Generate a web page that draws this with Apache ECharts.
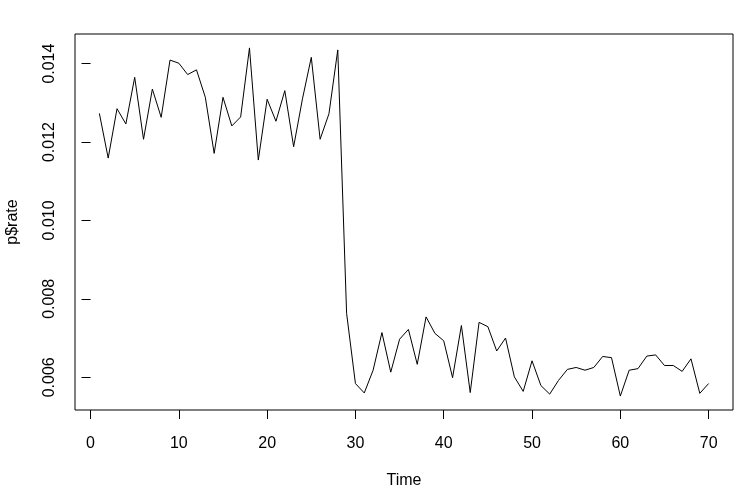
<!DOCTYPE html>
<html>
<head>
<meta charset="utf-8">
<script src="https://cdn.jsdelivr.net/npm/echarts@6/dist/echarts.min.js"></script>
<style>
html,body{margin:0;padding:0;background:#fff;}
#chart{width:744px;height:496px;}
</style>
</head>
<body>
<div id="chart"></div>
<script>
const time = [1,2,3,4,5,6,7,8,9,10,11,12,13,14,15,16,17,18,19,20,21,22,23,24,25,26,27,28,29,30,31,32,33,34,35,36,37,38,39,40,41,42,43,44,45,46,47,48,49,50,51,52,53,54,55,56,57,58,59,60,61,62,63,64,65,66,67,68,69,70];
const rate = [0.01273,0.01159,0.01285,0.01246,0.01365,0.01207,0.01335,0.01263,0.01409,0.01401,
              0.01372,0.01384,0.01314,0.01171,0.01314,0.01241,0.01264,0.01440,0.01154,0.01309,
              0.01253,0.01331,0.01188,0.01310,0.01416,0.01207,0.01272,0.01435,0.00763,0.00584,
              0.00560,0.00618,0.00714,0.00613,0.00697,0.00722,0.00633,0.00754,0.00712,0.00693,
              0.00599,0.00732,0.00561,0.00740,0.00729,0.00667,0.00700,0.00601,0.00564,0.00642,
              0.00579,0.00557,0.00592,0.00620,0.00625,0.00618,0.00625,0.00653,0.00650,0.00552,
              0.00618,0.00622,0.00654,0.00657,0.00630,0.00630,0.00615,0.00647,0.00559,0.00584];
const xTicks = [0,10,20,30,40,50,60,70];
const yTicks = [0.006,0.008,0.010,0.012,0.014];
const xName = 'Time';
const yName = 'p$rate';

const font = 'Liberation Sans, Arial, sans-serif';
const chart = echarts.init(document.getElementById('chart'), null, {renderer:'canvas'});
const pts = time.map((t,i)=>[t, rate[i]]);
chart.setOption({
  animation:false,
  backgroundColor:'#fff',
  grid:{left:75,right:11,top:34,bottom:86,show:true,borderColor:'#000',borderWidth:1,backgroundColor:'transparent',
        outerBoundsMode:'none',containLabel:false},
  xAxis:{
    type:'value', min:-1.76, max:72.76,
    name:xName, nameLocation:'middle', nameGap:63,
    nameTextStyle:{color:'#000',fontSize:16,fontFamily:font},
    axisLine:{show:false},
    splitLine:{show:false},
    axisTick:{show:true,length:9,inside:false,lineStyle:{color:'#000',width:1},customValues:xTicks},
    axisLabel:{color:'#000',fontSize:16,fontFamily:font,margin:26,customValues:xTicks,formatter:v=>String(v)}
  },
  yAxis:{
    type:'value', min:0.005165, max:0.014755,
    name:yName, nameLocation:'middle', nameGap:54, nameRotate:90,
    nameTextStyle:{color:'#000',fontSize:16,fontFamily:font},
    axisLine:{show:false},
    splitLine:{show:false},
    axisTick:{show:true,length:9,inside:false,lineStyle:{color:'#000',width:1},customValues:yTicks},
    axisLabel:{color:'#000',fontSize:16,fontFamily:font,margin:17,rotate:90,customValues:yTicks,formatter:v=>v.toFixed(3)}
  },
  series:[{
    type:'line', data:pts, showSymbol:false, symbol:'none',
    lineStyle:{color:'#000',width:1}
  }]
});
</script>
</body>
</html>
